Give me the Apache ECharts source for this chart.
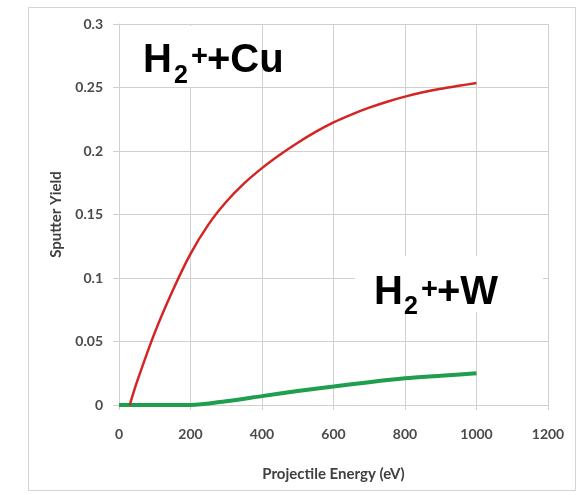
<!DOCTYPE html>
<html>
<head>
<meta charset="utf-8">
<script src="https://cdn.jsdelivr.net/npm/echarts@6/dist/echarts.min.js"></script>
<style>html,body{margin:0;padding:0;background:#fff}#c{width:582px;height:495px}</style>
</head>
<body>
<div id="c"></div>
<script>
const energyCu = [30, 50, 100, 150, 200, 250, 300, 350, 400, 450, 500, 550, 600, 650, 700, 750, 800, 850, 900, 950, 1000];
const yieldCu  = [0, 0.018, 0.057, 0.090, 0.119, 0.142, 0.160, 0.1745, 0.1865, 0.197, 0.2065, 0.215, 0.2225, 0.2287, 0.2341, 0.2388, 0.2428, 0.2462, 0.249, 0.2513, 0.2535];
const energyW = [0, 100, 200, 300, 400, 500, 600, 700, 800, 900, 1000];
const yieldW  = [0, 0, 0, 0.003, 0.007, 0.011, 0.0145, 0.018, 0.021, 0.023, 0.025];
const xAxisTitle = 'Projectile Energy (eV)';
const yAxisTitle = 'Sputter Yield';

const chart = echarts.init(document.getElementById('c'), null, {renderer: 'canvas'});
const gridColor = '#d0d0d0';
const labelFont = {fontFamily: 'Lato', fontSize: 14, fontWeight: 'bold', color: '#4a4a4a'};
// baseline-based placement: text drawn top-aligned, shifted by approximate ascent
function t(x, baseline, text, size) {
  const top = baseline - (0.79 * size + 2);
  return {type: 'text', x: x, y: top, z: 101, silent: true,
          style: {text: text, font: 'bold ' + size + 'px "Liberation Sans"', fill: '#000', verticalAlign: 'top'}};
}
chart.setOption({
  animation: false,
  grid: {left: 119, top: 24, right: 34, bottom: 90},
  xAxis: {
    type: 'value', min: 0, max: 1200, interval: 200,
    name: xAxisTitle, nameLocation: 'middle', nameGap: 62,
    nameTextStyle: {fontFamily: 'Lato', fontSize: 15, fontWeight: 'bold', color: '#404040'},
    axisLine: {show: true, onZero: false, lineStyle: {color: gridColor, width: 1}},
    axisTick: {show: true, length: 5, lineStyle: {color: gridColor}},
    axisLabel: Object.assign({margin: 22, formatter: v => String(v)}, labelFont),
    splitLine: {show: true, lineStyle: {color: gridColor, width: 1}}
  },
  yAxis: {
    type: 'value', min: 0, max: 0.3, interval: 0.05,
    name: yAxisTitle, nameLocation: 'middle', nameGap: 55, nameRotate: 90,
    nameTextStyle: {fontFamily: 'Lato', fontSize: 15, fontWeight: 'bold', color: '#404040'},
    axisLine: {show: true, lineStyle: {color: gridColor, width: 1}},
    axisTick: {show: true, length: 6, lineStyle: {color: gridColor}},
    axisLabel: Object.assign({margin: 16}, labelFont),
    splitLine: {show: true, lineStyle: {color: gridColor, width: 1}}
  },
  series: [
    {type: 'line', name: 'H2+ + Cu', data: energyCu.map((e, i) => [e, yieldCu[i]]), smooth: 0.3,
     showSymbol: false, lineStyle: {color: '#d42424', width: 2.5}, z: 3},
    {type: 'line', name: 'H2+ + W', data: energyW.map((e, i) => [e, yieldW[i]]), smooth: 0.3,
     showSymbol: false, lineStyle: {color: '#1e9e4e', width: 4}, z: 2}
  ],
  graphic: [
    {type: 'rect', shape: {x: 28.5, y: 7.5, width: 547, height: 483}, z: -10, silent: true,
     style: {fill: 'none', stroke: '#d4d4d4', lineWidth: 1}},
    {type: 'rect', shape: {x: 121, y: 26, width: 137, height: 61}, z: 100, silent: true, style: {fill: '#fff'}},
    {type: 'rect', shape: {x: 355, y: 256, width: 188, height: 56}, z: 100, silent: true, style: {fill: '#fff'}},
    t(143, 75, 'H', 40), t(174, 85, '2', 25), t(191, 67.5, '+', 29), t(207, 75, '+Cu', 40),
    t(374, 307, 'H', 40), t(404, 316, '2', 25), t(421, 300.5, '+', 29), t(437, 307, '+W', 40)
  ]
});
</script>
</body>
</html>
